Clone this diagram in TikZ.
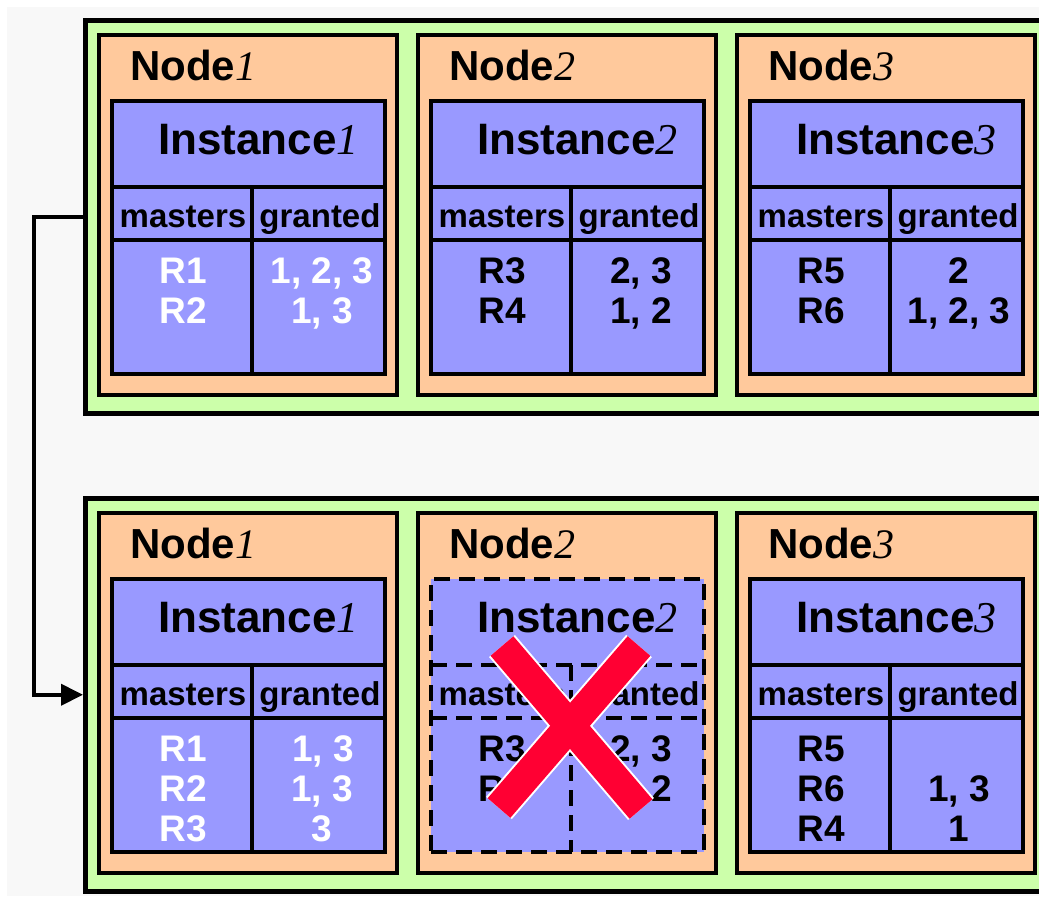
\documentclass[tikz,border=0pt]{standalone}
\usepackage{fontspec}
\setmainfont{Liberation Sans}
\newfontfamily\serifdig{Liberation Serif}
\usetikzlibrary{arrows.meta,calc}
\definecolor{grpgreen}{HTML}{CCFFAA}
\definecolor{nodepeach}{HTML}{FFC99C}
\definecolor{instpurple}{HTML}{9999FF}
\definecolor{bggray}{HTML}{F8F8F8}
\definecolor{crossred}{HTML}{FF0033}
\newcommand{\dig}[1]{{\serifdig\itshape\mdseries #1}}
\tikzset{
  grpbox/.style={draw=black, line width=4.5pt, fill=grpgreen, rectangle, anchor=north west,
    minimum width=1000pt, minimum height=393pt, inner sep=0pt},
  nodebox/.style={draw=black, line width=4pt, fill=nodepeach, rectangle, anchor=north west,
    minimum width=298pt, minimum height=360pt, inner sep=0pt, outer sep=0pt},
  instbox/.style={draw=black, line width=4pt, fill=instpurple, rectangle, anchor=north west,
    minimum width=273pt, minimum height=273pt, inner sep=0pt, outer sep=0pt},
  instdash/.style={dash pattern=on 16pt off 9pt, line width=4.5pt},
  cellline/.style={draw=black, line width=3.5pt},
  nodelbl/.style={anchor=base west, inner sep=0pt, font=\bfseries\fontsize{42}{42}\selectfont},
  instlbl/.style={anchor=base west, inner sep=0pt, font=\bfseries\fontsize{44}{44}\selectfont},
  hdr/.style={anchor=base, inner sep=0pt, font=\bfseries\fontsize{33}{33}\selectfont},
  cell/.style={anchor=base, inner sep=0pt, font=\bfseries\fontsize{37}{37}\selectfont},
  cellw/.style={cell, text=white},
  conn/.style={draw=black, line width=4pt, -{Triangle[length=22pt,width=21pt]}},
  crossout/.style={line width=34pt, draw=white},
  crossin/.style={line width=30pt, draw=crossred},
}
\begin{document}
\begin{tikzpicture}[x=1pt,y=-1pt]
\useasboundingbox (0,0) rectangle (1039,898);
\clip (0,0) rectangle (1039,898);
\fill[white] (0,0) rectangle (1039,898);
\fill[bggray] (7,7) rectangle (1039,896);

% groups and node boxes
\foreach \g/\dy in {t/0,b/478}{
  \node[grpbox] (\g grp) at (83,18+\dy) {};
  \foreach \i in {1,2,3}{
    \pgfmathsetmacro\nx{99+319*(\i-1)}
    \node[nodebox] (\g n\i) at (\nx,35+\dy) {};
    \node[nodelbl] (\g n\i lbl) at (\nx+31,80+\dy) {Node\dig{\i}};
  }
}

% instances
\foreach \g/\dy/\i/\ds in {t/0/1/solid,t/0/2/solid,t/0/3/solid,b/478/1/solid,b/478/2/instdash,b/478/3/solid}{
  \pgfmathsetmacro\ix{112+319*(\i-1)}
  \node[instbox,\ds] (\g i\i) at (\ix,101+\dy) {};
  \draw[cellline,\ds] ($(\g i\i.north west)+(0,86)$) -- ($(\g i\i.north east)+(0,86)$);
  \draw[cellline,\ds] ($(\g i\i.north west)+(0,139)$) -- ($(\g i\i.north east)+(0,139)$);
  \draw[cellline,\ds] ($(\g i\i.north west)+(140,86)$) -- ($(\g i\i.south west)+(140,0)$);
  \node[instlbl] (\g i\i lbl) at (\ix+46,154+\dy) {Instance\dig{\i}};
  \node[hdr] (\g i\i m) at (\ix+71,227+\dy) {masters};
  \node[hdr] (\g i\i g) at (\ix+208,227+\dy) {granted};
}

% top group cells
\node[cellw] (t1m1) at (183,283) {R1};
\node[cellw] (t1m2) at (183,323) {R2};
\node[cellw] (t1g1) at (322,283) {1, 2, 3};
\node[cellw] (t1g2) at (322,323) {1, 3};
\node[cell] (t2m1) at (502,283) {R3};
\node[cell] (t2m2) at (502,323) {R4};
\node[cell] (t2g1) at (641,283) {2, 3};
\node[cell] (t2g2) at (641,323) {1, 2};
\node[cell] (t3m1) at (821,283) {R5};
\node[cell] (t3m2) at (821,323) {R6};
\node[cell] (t3g1) at (959,283) {2};
\node[cell] (t3g2) at (959,323) {1, 2, 3};

% bottom group cells
\node[cellw] (b1m1) at (183,761) {R1};
\node[cellw] (b1m2) at (183,801) {R2};
\node[cellw] (b1m3) at (183,841) {R3};
\node[cellw] (b1g1) at (323,761) {1, 3};
\node[cellw] (b1g2) at (322,801) {1, 3};
\node[cellw] (b1g3) at (322,841) {3};
\node[cell] (b2m1) at (502,761) {R3};
\node[cell] (b2m2) at (502,801) {R4};
\node[cell] (b2g1) at (641,761) {2, 3};
\node[cell] (b2g2) at (641,801) {1, 2};
\node[cell] (b3m1) at (821,761) {R5};
\node[cell] (b3m2) at (821,801) {R6};
\node[cell] (b3m3) at (821,841) {R4};
\node[cell] (b3g2) at (959,801) {1, 3};
\node[cell] (b3g3) at (959,841) {1};

% red cross over Instance 2
\coordinate (xtl) at (502,646);
\coordinate (xbr) at (641,809);
\coordinate (xtr) at (639,646);
\coordinate (xbl) at (499,808);
\draw[crossout] (xtl) -- (xbr);
\draw[crossout] (xtr) -- (xbl);
\draw[crossin] (xtl) -- (xbr);
\draw[crossin] (xtr) -- (xbl);

% connector
\draw[conn] (tgrp.west) -- ++(-49,0) |- (bgrp.west);
\end{tikzpicture}
\end{document}
